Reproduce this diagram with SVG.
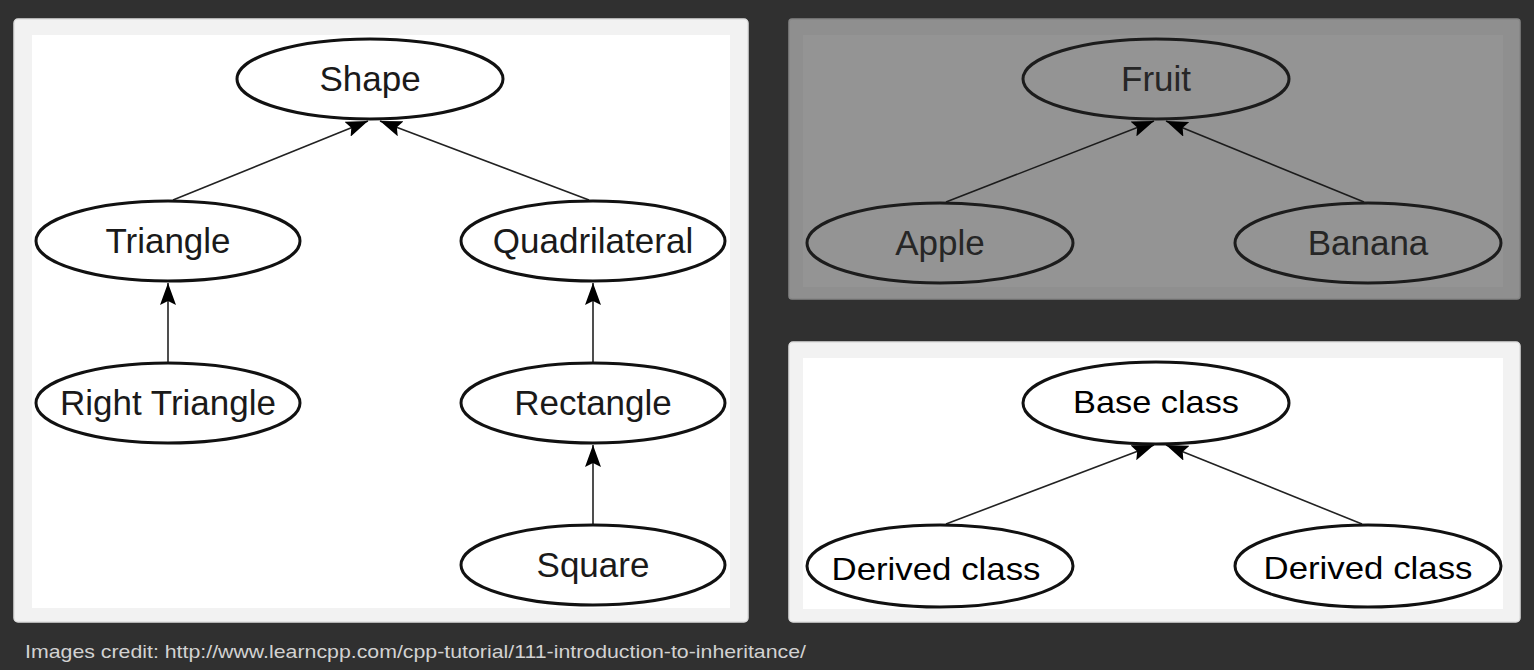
<svg xmlns="http://www.w3.org/2000/svg" width="1534" height="670" viewBox="0 0 1534 670">
<defs>
<style>
.bg{fill:#303030}
.frame{fill:#f2f2f2;stroke:#dedede;stroke-width:1.5}
.inner{fill:#ffffff}
.gframe{fill:#8f8f8f;stroke:#858585;stroke-width:1.5}
.ginner{fill:#949494}
.node{fill:none;stroke:#111;stroke-width:3}
.gnode{fill:none;stroke:#1c1c1c;stroke-width:3}
.t1{font-family:"Liberation Sans",Arial,sans-serif;font-size:35px;fill:#1a1a1a;text-anchor:middle}
.t2{font-family:"Liberation Sans",Arial,sans-serif;font-size:35px;fill:#262626;text-anchor:middle}
.t3{font-family:"Liberation Sans",Arial,sans-serif;font-size:32px;fill:#000;text-anchor:middle}
.edge{stroke:#222;stroke-width:1.6;fill:none}
.edge2{stroke:#1c1c1c;stroke-width:1.6;fill:none}
.cap{font-family:"Liberation Sans",Arial,sans-serif;font-size:19px;fill:#d2d2d2}
</style>
<marker id="arr" viewBox="0 0 22 16" refX="22" refY="8" markerWidth="22" markerHeight="16" orient="auto" markerUnits="userSpaceOnUse">
<path d="M0,0 L22,8 L0,16 L4,8 Z" fill="#000"/>
</marker>
</defs>
<rect class="bg" x="0" y="0" width="1534" height="670"/>

<!-- Panel 1 -->
<rect class="frame" x="14" y="19" width="734" height="603" rx="4"/>
<rect class="inner" x="32" y="35" width="698" height="573"/>
<!-- Panel 2 -->
<rect class="gframe" x="789" y="19" width="731" height="280" rx="3"/>
<rect class="ginner" x="803" y="35" width="700" height="252"/>
<!-- Panel 3 -->
<rect class="frame" x="789" y="342" width="731" height="280" rx="4"/>
<rect class="inner" x="803" y="358" width="700" height="251"/>

<g id="connectors">
<line class="edge" x1="173" y1="200" x2="368" y2="121" marker-end="url(#arr)"/>
<line class="edge" x1="589" y1="200" x2="380" y2="121" marker-end="url(#arr)"/>
<line class="edge" x1="168" y1="362" x2="168" y2="283" marker-end="url(#arr)"/>
<line class="edge" x1="593" y1="362" x2="593" y2="283" marker-end="url(#arr)"/>
<line class="edge" x1="593" y1="524" x2="593" y2="445" marker-end="url(#arr)"/>
<line class="edge2" x1="946" y1="202" x2="1154" y2="121" marker-end="url(#arr)"/>
<line class="edge2" x1="1364" y1="202" x2="1166" y2="121" marker-end="url(#arr)"/>
<line class="edge" x1="946" y1="524" x2="1154" y2="445" marker-end="url(#arr)"/>
<line class="edge" x1="1362" y1="524" x2="1166" y2="445" marker-end="url(#arr)"/>
</g>

<g id="shape"><ellipse class="node" cx="370" cy="79" rx="133" ry="40"/><text class="t1" x="370" y="91">Shape</text></g>
<g id="triangle"><ellipse class="node" cx="168" cy="241" rx="132" ry="40"/><text class="t1" x="168" y="253">Triangle</text></g>
<g id="quadrilateral"><ellipse class="node" cx="593" cy="241" rx="132" ry="40"/><text class="t1" x="593" y="253">Quadrilateral</text></g>
<g id="right-triangle"><ellipse class="node" cx="168" cy="403" rx="132" ry="40"/><text class="t1" x="168" y="415">Right Triangle</text></g>
<g id="rectangle"><ellipse class="node" cx="593" cy="403" rx="132" ry="40"/><text class="t1" x="593" y="415">Rectangle</text></g>
<g id="square"><ellipse class="node" cx="593" cy="565" rx="132" ry="40"/><text class="t1" x="593" y="577">Square</text></g>

<g id="fruit"><ellipse class="gnode" cx="1156" cy="79" rx="133" ry="40"/><text class="t2" x="1156" y="91">Fruit</text></g>
<g id="apple"><ellipse class="gnode" cx="940" cy="243" rx="133" ry="40"/><text class="t2" x="940" y="255">Apple</text></g>
<g id="banana"><ellipse class="gnode" cx="1368" cy="243" rx="133" ry="40"/><text class="t2" x="1368" y="255">Banana</text></g>

<g id="base-class"><ellipse class="node" cx="1156" cy="403" rx="133" ry="41"/><text class="t3" x="1156" y="413" textLength="166" lengthAdjust="spacingAndGlyphs">Base class</text></g>
<g id="derived-class-1"><ellipse class="node" cx="940" cy="566" rx="133" ry="41"/><text class="t3" x="936" y="580" textLength="209" lengthAdjust="spacingAndGlyphs">Derived class</text></g>
<g id="derived-class-2"><ellipse class="node" cx="1368" cy="566" rx="133" ry="41"/><text class="t3" x="1368" y="579" textLength="209" lengthAdjust="spacingAndGlyphs">Derived class</text></g>

<text class="cap" x="25" y="658" textLength="781" lengthAdjust="spacingAndGlyphs">Images credit: http://www.learncpp.com/cpp-tutorial/111-introduction-to-inheritance/</text>
</svg>
